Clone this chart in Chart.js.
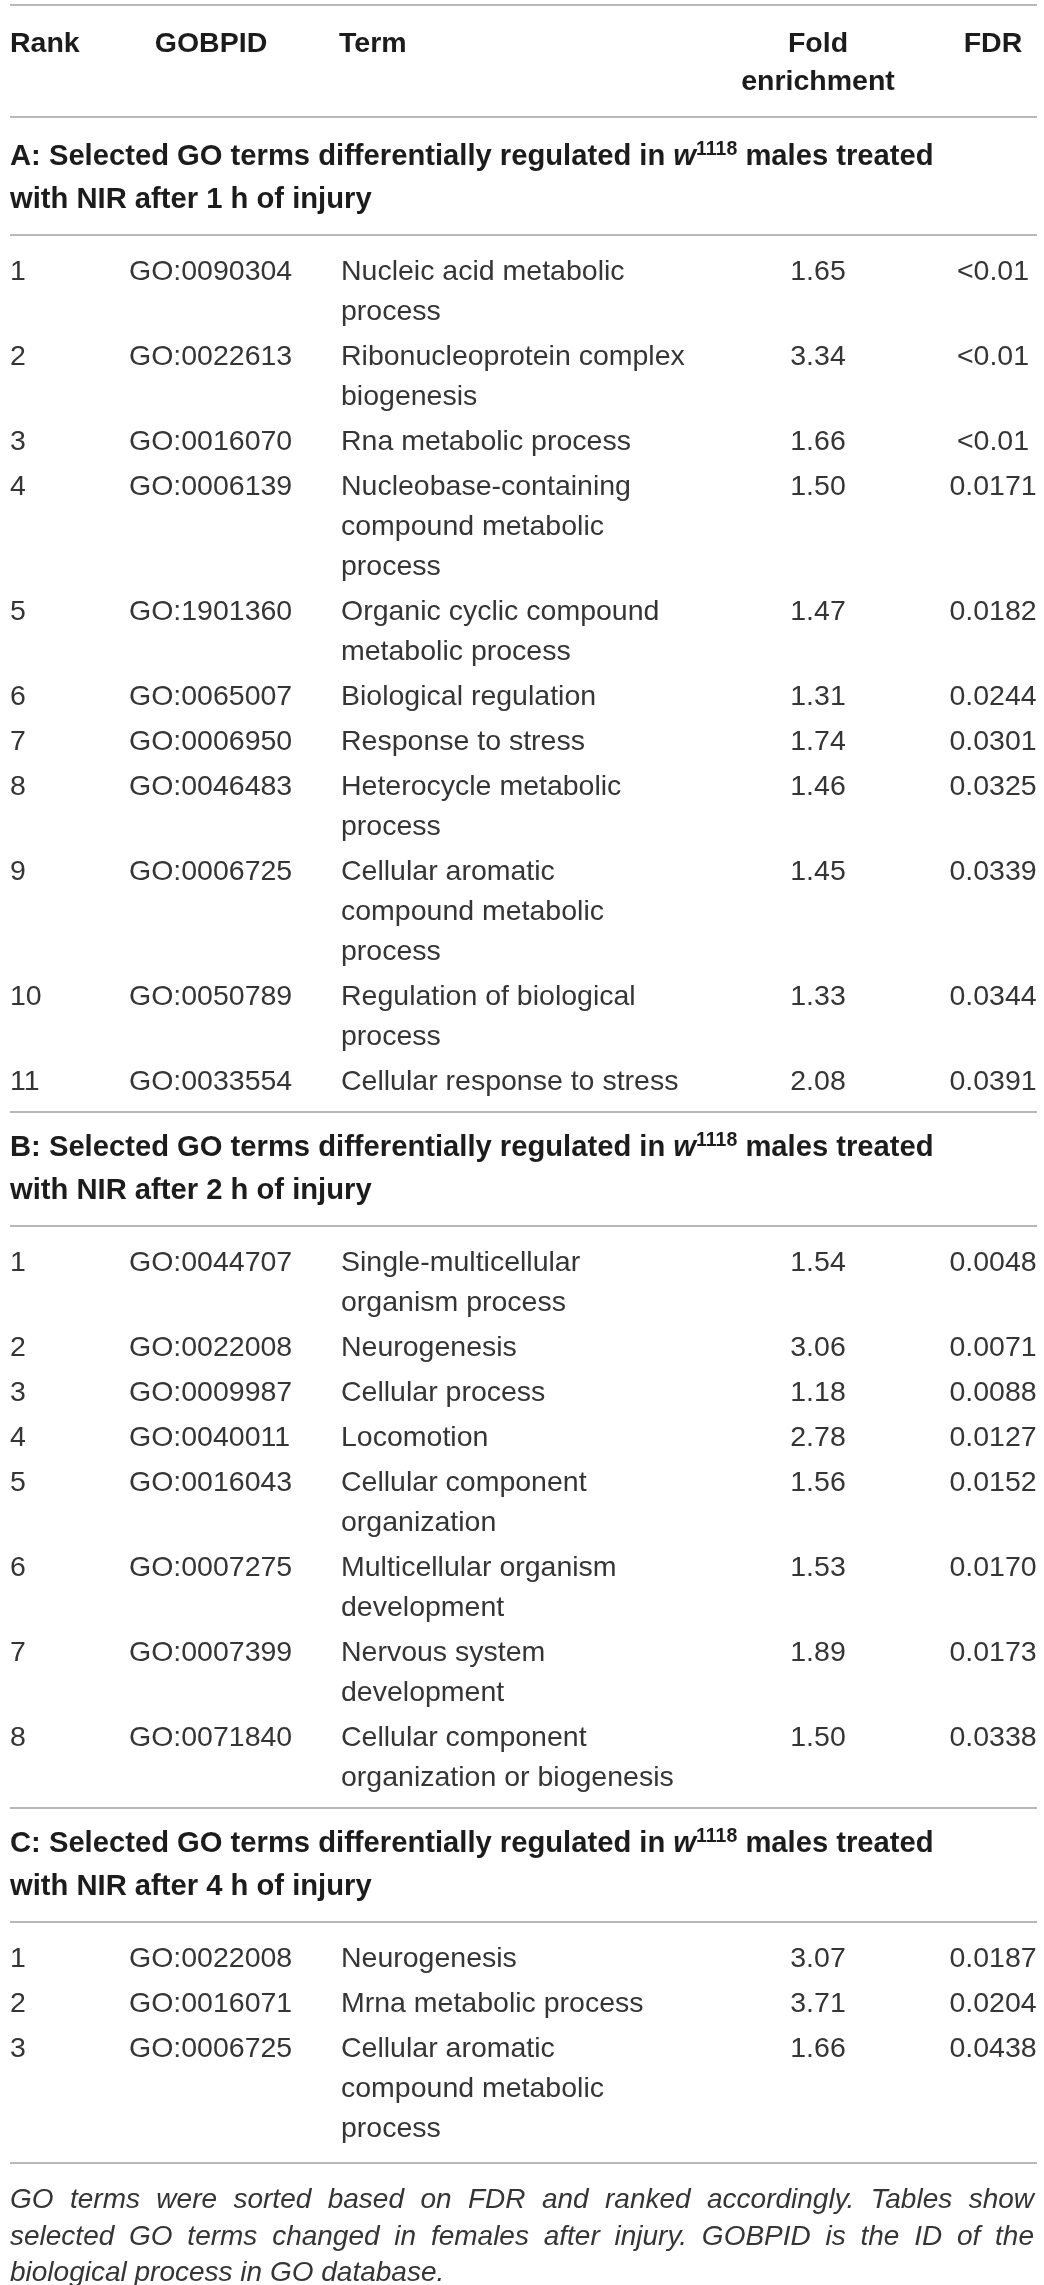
<!DOCTYPE html>
<html lang="en">
<head>
<meta charset="utf-8">
<title>Selected GO terms</title>
<script src="https://cdn.jsdelivr.net/npm/chart.js@4.4.1/dist/chart.umd.min.js"></script>
<style>
  html, body { margin: 0; padding: 0; background: #ffffff; }
  #quadro { width: 1044px; height: 2285px; }
</style>
</head>
<body>
<div id="quadro"><canvas id="tabelaGO" width="1044" height="2285"></canvas></div>
<script>
// Cabeçalhos das colunas
const headers = ["Rank", "GOBPID", "Term", "Fold\nenrichment", "FDR"];

// Seções
const sectionLetters = ["A", "B", "C"];
const sectionHours = ["1", "2", "4"];

// Seção A: 1 h
const ranksA = ["1", "2", "3", "4", "5", "6", "7", "8", "9", "10", "11"];
const idsA = ["GO:0090304", "GO:0022613", "GO:0016070", "GO:0006139", "GO:1901360", "GO:0065007",
  "GO:0006950", "GO:0046483", "GO:0006725", "GO:0050789", "GO:0033554"];
const termsA = [
  "Nucleic acid metabolic\nprocess",
  "Ribonucleoprotein complex\nbiogenesis",
  "Rna metabolic process",
  "Nucleobase-containing\ncompound metabolic\nprocess",
  "Organic cyclic compound\nmetabolic process",
  "Biological regulation",
  "Response to stress",
  "Heterocycle metabolic\nprocess",
  "Cellular aromatic\ncompound metabolic\nprocess",
  "Regulation of biological\nprocess",
  "Cellular response to stress"
];
const foldA = ["1.65", "3.34", "1.66", "1.50", "1.47", "1.31", "1.74", "1.46", "1.45", "1.33", "2.08"];
const fdrA = ["<0.01", "<0.01", "<0.01", "0.0171", "0.0182", "0.0244", "0.0301", "0.0325", "0.0339", "0.0344", "0.0391"];

// Seção B: 2 h
const ranksB = ["1", "2", "3", "4", "5", "6", "7", "8"];
const idsB = ["GO:0044707", "GO:0022008", "GO:0009987", "GO:0040011", "GO:0016043", "GO:0007275",
  "GO:0007399", "GO:0071840"];
const termsB = [
  "Single-multicellular\norganism process",
  "Neurogenesis",
  "Cellular process",
  "Locomotion",
  "Cellular component\norganization",
  "Multicellular organism\ndevelopment",
  "Nervous system\ndevelopment",
  "Cellular component\norganization or biogenesis"
];
const foldB = ["1.54", "3.06", "1.18", "2.78", "1.56", "1.53", "1.89", "1.50"];
const fdrB = ["0.0048", "0.0071", "0.0088", "0.0127", "0.0152", "0.0170", "0.0173", "0.0338"];

// Seção C: 4 h
const ranksC = ["1", "2", "3"];
const idsC = ["GO:0022008", "GO:0016071", "GO:0006725"];
const termsC = [
  "Neurogenesis",
  "Mrna metabolic process",
  "Cellular aromatic\ncompound metabolic\nprocess"
];
const foldC = ["3.07", "3.71", "1.66"];
const fdrC = ["0.0187", "0.0204", "0.0438"];

// Nota de rodapé (linhas como na figura)
const footnoteLines = [
  "GO terms were sorted based on FDR and ranked accordingly. Tables show",
  "selected GO terms changed in females after injury. GOBPID is the ID of the",
  "biological process in GO database."
];

// ---- Estilo e layout ----
const FONT_BODY = '28.5px "Liberation Sans", Arial, sans-serif';
const FONT_BOLD = 'bold 28.5px "Liberation Sans", Arial, sans-serif';
const FONT_TITLE = 'bold 29.2px "Liberation Sans", Arial, sans-serif';
const FONT_TITLE_IT = 'italic bold 29.2px "Liberation Sans", Arial, sans-serif';
const FONT_SUP = 'bold 19.5px "Liberation Sans", Arial, sans-serif';
const FONT_NOTE = 'italic 28px "Liberation Sans", Arial, sans-serif';
const COR_TEXTO = "#353535";
const COR_CAB = "#1c1c1c";
const COR_LINHA = "#a0a0a0";

const LEFT = 10, RIGHT = 1037;
// colunas: posição x e alinhamento
const colHead = [
  { x: 10, align: "left" }, { x: 211, align: "center" }, { x: 339, align: "left" },
  { x: 818, align: "center" }, { x: 993, align: "center" }
];
const colBody = [
  { x: 10, align: "left" }, { x: 129, align: "left" }, { x: 341, align: "left" },
  { x: 818, align: "center" }, { x: 993, align: "center" }
];

const sections = [
  { ranks: ranksA, ids: idsA, terms: termsA, fold: foldA, fdr: fdrA },
  { ranks: ranksB, ids: idsB, terms: termsB, fold: foldB, fdr: fdrB },
  { ranks: ranksC, ids: idsC, terms: termsC, fold: foldC, fdr: fdrC }
];

// monta a lista de textos e de linhas horizontais (em unidades do eixo y)
const textos = [];
const regras = [];

regras.push(5);
headers.forEach((h, i) => {
  h.split("\n").forEach((linha, k) => {
    textos.push({ x: colHead[i].x, y: 52 + k * 38, text: linha, align: colHead[i].align, font: FONT_BOLD, color: COR_CAB });
  });
});
regras.push(117);

let topo = 121;
sections.forEach((sec, s) => {
  const t1 = topo + 44, t2 = t1 + 43;
  textos.push({ type: "titulo1", y: t1, letter: sectionLetters[s] });
  textos.push({ x: LEFT, y: t2, text: "with NIR after " + sectionHours[s] + " h of injury", align: "left", font: FONT_TITLE, color: COR_CAB });
  const regraSec = t2 + 27;
  regras.push(regraSec);

  let base = regraSec + 45;
  let ultima = base;
  sec.ranks.forEach((r, i) => {
    const celulas = [r, sec.ids[i], sec.terms[i], sec.fold[i], sec.fdr[i]];
    let nLinhas = 1;
    celulas.forEach((c, j) => {
      const linhas = c.split("\n");
      nLinhas = Math.max(nLinhas, linhas.length);
      linhas.forEach((linha, k) => {
        textos.push({ x: colBody[j].x, y: base + k * 40, text: linha, align: colBody[j].align, font: FONT_BODY, color: COR_TEXTO });
      });
    });
    ultima = base + (nLinhas - 1) * 40;
    base = ultima + 45;
  });
  topo = ultima + (s === 2 ? 26 : 22);
  regras.push(topo);
});

const notaBase = topo + 45;

// Plugin que escreve o texto da tabela usando as escalas do gráfico
const textoTabela = {
  id: "textoTabela",
  afterDatasetsDraw(chart) {
    const { ctx, scales: { x, y } } = chart;
    ctx.save();
    ctx.textBaseline = "alphabetic";
    textos.forEach((t) => {
      const py = y.getPixelForValue(t.y);
      if (t.type === "titulo1") {
        // "X: Selected GO terms differentially regulated in w^1118 males treated"
        let px = x.getPixelForValue(LEFT);
        ctx.fillStyle = COR_CAB;
        ctx.textAlign = "left";
        const partes = [
          { text: t.letter + ": Selected GO terms differentially regulated in ", font: FONT_TITLE, dy: 0 },
          { text: "w", font: FONT_TITLE_IT, dy: 0 },
          { text: "1118", font: FONT_SUP, dy: -10 },
          { text: " males treated", font: FONT_TITLE, dy: 0 }
        ];
        partes.forEach((p) => {
          ctx.font = p.font;
          ctx.fillText(p.text, px, py + p.dy);
          px += ctx.measureText(p.text).width;
        });
        return;
      }
      ctx.font = t.font;
      ctx.fillStyle = t.color;
      ctx.textAlign = t.align;
      ctx.fillText(t.text, x.getPixelForValue(t.x), py);
    });

    // rodapé justificado
    ctx.font = FONT_NOTE;
    ctx.fillStyle = COR_TEXTO;
    ctx.textAlign = "left";
    const x0 = x.getPixelForValue(LEFT), x1 = x.getPixelForValue(1034);
    footnoteLines.forEach((linha, i) => {
      const py = y.getPixelForValue(notaBase + i * 36.5);
      const palavras = linha.split(" ");
      if (i === footnoteLines.length - 1) {
        ctx.fillText(linha, x0, py);
        return;
      }
      const larguras = palavras.map((w) => ctx.measureText(w).width);
      const total = larguras.reduce((a, b) => a + b, 0);
      const espaco = (x1 - x0 - total) / (palavras.length - 1);
      let px = x0;
      palavras.forEach((w, k) => {
        ctx.fillText(w, px, py);
        px += larguras[k] + espaco;
      });
    });
    ctx.restore();
  }
};

const ctx = document.getElementById("tabelaGO").getContext("2d");
new Chart(ctx, {
  type: "scatter",
  data: {
    datasets: regras.map((ry) => ({
      type: "line",
      data: [{ x: LEFT, y: ry }, { x: RIGHT, y: ry }],
      borderColor: COR_LINHA,
      borderWidth: 1.6,
      pointRadius: 0,
      fill: false
    }))
  },
  options: {
    responsive: false,
    animation: false,
    layout: { padding: 0 },
    plugins: {
      legend: { display: false },
      tooltip: { enabled: false }
    },
    scales: {
      x: { type: "linear", display: false, min: 0, max: 1044 },
      y: { type: "linear", display: false, min: 0, max: 2285, reverse: true }
    }
  },
  plugins: [textoTabela]
});
</script>
</body>
</html>
